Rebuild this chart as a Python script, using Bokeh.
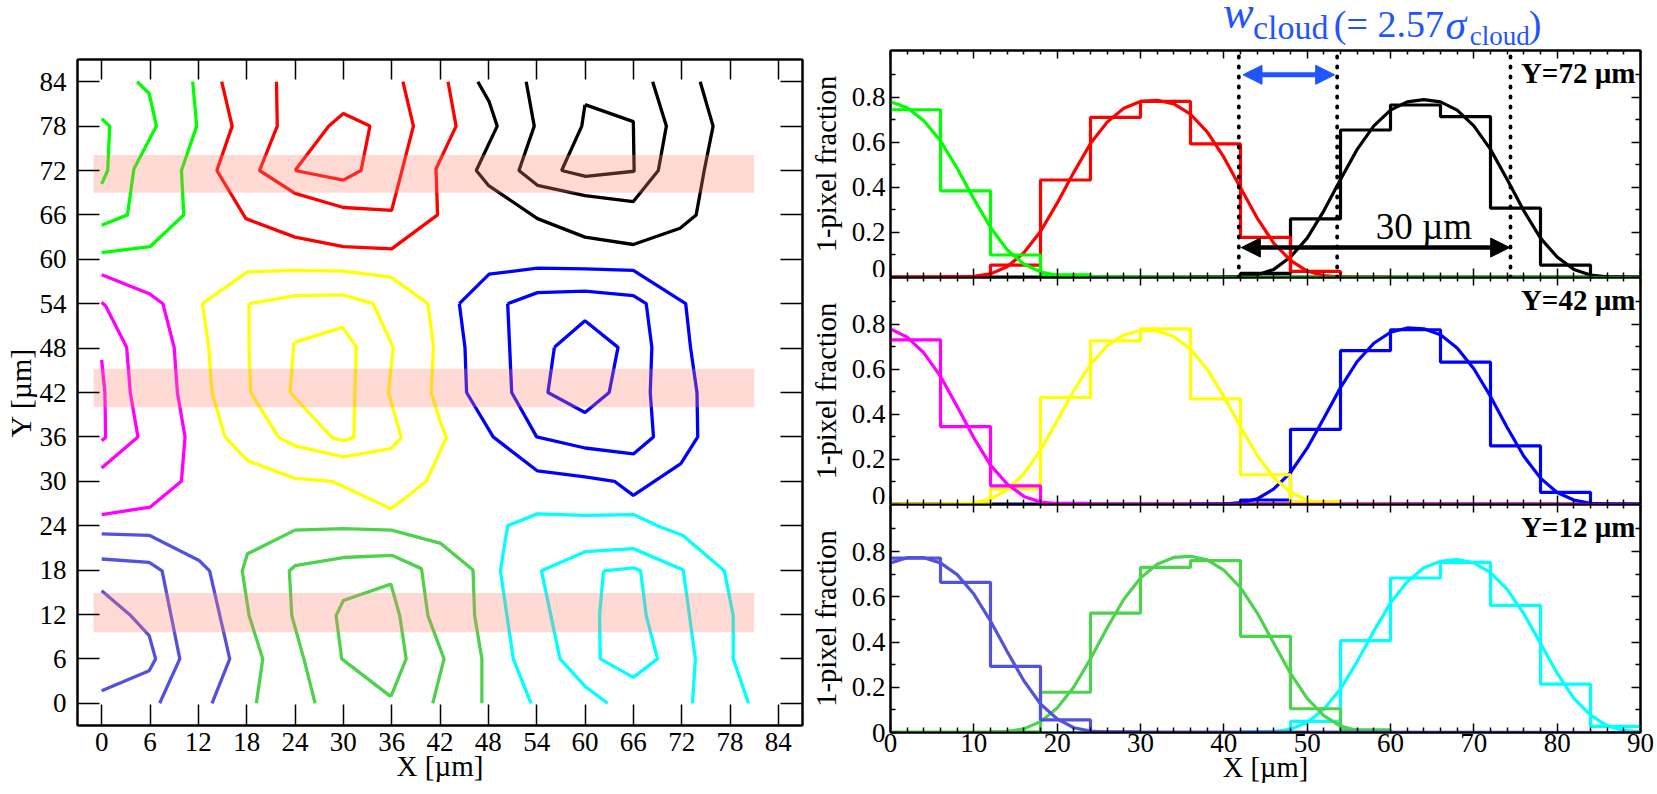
from bokeh.plotting import figure
from bokeh.layouts import row, column
from bokeh.models import FixedTicker, LinearAxis, Label, Arrow, NormalHead
from bokeh.embed import file_html
from bokeh.resources import INLINE

FONT = "Liberation Serif"

# ---------------- left panel: contour map ----------------
MAP_TICKS = [0, 6, 12, 18, 24, 30, 36, 42, 48, 54, 60, 66, 72, 78, 84]
BAND_BOTTOM = [9.6, 40.0, 69.0]
BAND_TOP = [14.9, 45.2, 74.1]

LIME_XS = [[0, 1.0, 0.75, 0], [4.4, 5.9, 6.8, 4.0, 3.2, 0], [11.3, 11.8, 9.9, 10.2, 6.0, 0]]
LIME_YS = [[79, 78, 72, 70.2], [84, 82.4, 78, 72.2, 66, 64.6], [84, 78, 72, 66, 61.7, 60.9]]
RED_XS = [[14.9, 16.2, 14.3, 17.9, 24, 30, 36, 41.7, 41.5, 44, 43],
          [21.7, 21.8, 19.6, 24, 30, 36, 38.7, 37.4],
          [24, 28.2, 30, 33.3, 32.2, 30, 24]]
RED_YS = [[84, 78, 72, 65.5, 63, 61.7, 61.4, 66, 72.2, 78, 84],
          [84, 78, 72, 68.9, 67, 66.6, 78, 84],
          [72, 78, 79.7, 78, 72, 70.7, 72]]
BLACK_XS = [[46.7, 48.1, 49.1, 46.5, 48.0, 54.1, 60, 66, 71.8, 73.8, 74.8, 75.9, 74.3],
            [52.7, 53.7, 51.8, 54.1, 60, 66, 69.1, 70.1, 68.4],
            [60, 59.6, 57.1, 60.1, 66.1, 66, 60]]
BLACK_YS = [[84, 81.3, 78, 72, 70, 65.5, 63, 62, 64.2, 66, 72, 78, 84],
            [84, 78, 72, 70, 68.6, 67.8, 72, 78, 84],
            [80.9, 78, 72, 71.2, 71.9, 78.6, 80.9]]
MAGENTA_XS = [[0, 0.4, 0.5, 0], [0, 0.5, 3.1, 3.55, 4.5, 0],
              [0, 6, 7.6, 9.0, 9.4, 10.35, 9.9, 6, 0]]
MAGENTA_YS = [[46.4, 42, 35.9, 35.5], [54.2, 53.7, 48.1, 42, 36, 31.8],
              [57.9, 55.3, 54, 48.1, 42, 36, 30, 26.5, 25.5]]
YELLOW_XS = [[12.5, 18.1, 24, 30, 35.9, 40.5, 41.2, 40.9, 42.1, 42.8, 40.3, 37.3, 35.9, 28.6, 24, 18.1, 15.3, 13.7, 13.3, 12.5],
             [18.3, 24, 30, 33.7, 36.2, 35.6, 37.2, 35.9, 30, 24, 22, 18.5, 18.3, 18.3],
             [24, 29.9, 31.6, 31.3, 30, 28.6, 23.4, 23.85, 24]]
YELLOW_YS = [[54, 58.3, 58.5, 58.4, 57.6, 54, 48.1, 42, 37.8, 35.9, 30, 27.4, 26.3, 30, 30.4, 32.8, 36, 42, 48.1, 54],
             [54, 55.1, 55.2, 54, 48.1, 42, 35.9, 34.4, 33.3, 34.8, 35.9, 42, 48, 54],
             [48.8, 50.8, 48.2, 35.9, 35.5, 35.9, 42, 48.6, 48.8]]
BLUE_XS = [[44.4, 48.1, 54.1, 60, 66, 72.5, 73.1, 73.9, 74, 71.9, 66, 63.65, 60, 54.1, 48.6, 45.3, 45.1, 44.4],
           [50.4, 54.1, 60, 66, 67.6, 68.3, 68.1, 68.5, 66, 60, 54, 50.9, 50.65, 50.4],
           [56.2, 60, 64.1, 63, 60, 55.4, 56.2]]
BLUE_YS = [[54, 58, 58.8, 58.7, 58.5, 54, 48.1, 42, 36, 32.4, 28.1, 30, 30.6, 31.4, 36, 42, 48.1, 54],
           [54, 55.5, 55.7, 55.1, 54, 48.1, 42, 36, 33.7, 34.5, 36, 42, 48.1, 54],
           [48.1, 51.7, 48.1, 42, 39.3, 42, 48.1]]
SLATE_XS = [[0, 3.6, 5.9, 6.7, 5.9, 0], [0, 5.9, 7.5, 9.7, 7.2], [0, 5.9, 12.1, 13.4, 15.9, 13.7]]
SLATE_YS = [[15.2, 11.85, 9.15, 6, 4.4, 1.7], [19.5, 19.05, 17.9, 6, 0], [22.9, 22.7, 19.3, 17.9, 6, 0]]
GREEN_XS = [[19.2, 20, 18.3, 17.45, 18.1, 24, 30, 36, 42.1, 46.1, 46.3, 47.2, 47.2],
            [26.5, 25.1, 23.6, 23.3, 24, 30, 36, 39.7, 40.5, 42.5, 41.1],
            [35.9, 29.8, 29.1, 30, 35.9, 37, 37.8, 35.9]]
GREEN_YS = [[0, 6, 11.85, 17.9, 20.2, 23.4, 23.6, 23.4, 21.6, 18, 11.85, 6, 0],
            [0, 6, 11.85, 17.9, 18.6, 19.7, 20, 18.2, 11.85, 6, 0],
            [0.9, 6, 11.85, 13.9, 16.1, 11.85, 6, 0.9]]
CYAN_XS = [[53.3, 51.1, 49.5, 50.4, 54.1, 60, 66, 69.2, 72.1, 77.3, 78.4, 78.4, 80.3],
           [62.8, 60.1, 56.9, 54.6, 60.1, 66, 72.2, 73.7, 73.35],
           [62.3, 66.1, 66.9, 67.6, 69, 66, 61.9, 61.8, 62.3]]
CYAN_YS = [[0, 6, 17.9, 24, 25.6, 25.4, 25.5, 23.9, 22.7, 17.9, 11.85, 6, 0],
           [0, 2.2, 6, 17.9, 20.5, 20.9, 18, 6, 0],
           [17.9, 18.3, 17.9, 11.85, 6, 3.5, 6, 11.85, 17.9]]

C_LIME = "#00ff00"
C_RED = "#ff0000"
C_BLACK = "#000000"
C_MAGENTA = "#ff00ff"
C_YELLOW = "#ffff00"
C_BLUE = "#0000ff"
C_SLATE = "#5252dc"
C_GREEN = "#4dd24d"
C_CYAN = "#00ffff"
C_ANN = "#1f55ff"

# ---------------- right panels: 1-pixel fraction profiles ----------------
PROFILE_TICKS = [0, 10, 20, 30, 40, 50, 60, 70, 80, 90]
PROFILE_MINOR = [2, 4, 6, 8, 12, 14, 16, 18, 22, 24, 26, 28, 32, 34, 36, 38, 42, 44, 46, 48,
                 52, 54, 56, 58, 62, 64, 66, 68, 72, 74, 76, 78, 82, 84, 86, 88]
FRAC_TICKS = [0, 0.2, 0.4, 0.6, 0.8]
FRAC_MINOR = [0.1, 0.3, 0.5, 0.7, 0.9]
BIN_EDGES = [0, 6, 12, 18, 24, 30, 36, 42, 48, 54, 60, 66, 72, 78, 84, 90]

# Y = 72 um
H72_GREEN = [0.745, 0.385, 0.100, 0.012, 0.002, 0, 0, 0, 0, 0, 0, 0, 0, 0, 0]
H72_RED = [0.002, 0.004, 0.055, 0.433, 0.711, 0.782, 0.593, 0.178, 0.027, 0.002, 0, 0, 0, 0, 0]
H72_BLACK = [0, 0, 0, 0, 0, 0, 0.002, 0.018, 0.260, 0.655, 0.766, 0.714, 0.308, 0.055, 0.002]
F72_GREEN_X = [0, 2, 4, 6, 8, 10, 12, 14, 16, 18, 20, 22, 24, 90]
F72_GREEN_Y = [0.780, 0.754, 0.696, 0.607, 0.485, 0.349, 0.222, 0.123, 0.060, 0.025, 0.009, 0.003, 0.001, 0]
F72_RED_X = [0, 8, 10, 12, 14, 16, 18, 20, 22, 24, 26, 28, 30, 32, 34, 36, 38, 40, 42, 44, 46, 48, 50, 52, 54, 56, 66]
F72_RED_Y = [0, 0, 0.005, 0.016, 0.048, 0.110, 0.204, 0.330, 0.467, 0.595, 0.690, 0.752, 0.782, 0.787, 0.771,
             0.725, 0.647, 0.534, 0.399, 0.264, 0.152, 0.076, 0.028, 0.009, 0.002, 0, 0]
F72_BLACK_X = [36, 40, 42, 44, 46, 48, 50, 52, 54, 56, 58, 60, 62, 64, 66, 68, 70, 72, 74, 76, 78, 80, 82, 84, 86, 88, 90]
F72_BLACK_Y = [0, 0.001, 0.003, 0.011, 0.036, 0.091, 0.175, 0.296, 0.435, 0.569, 0.673, 0.743, 0.780, 0.790,
               0.780, 0.743, 0.673, 0.569, 0.435, 0.296, 0.175, 0.091, 0.036, 0.011, 0.003, 0.001, 0]

# Y = 42 um
H42_MAGENTA = [0.731, 0.346, 0.083, 0.005, 0, 0, 0, 0, 0, 0, 0, 0, 0, 0, 0]
H42_YELLOW = [0.002, 0.003, 0.069, 0.476, 0.727, 0.780, 0.469, 0.132, 0.013, 0.001, 0, 0, 0, 0, 0]
H42_BLUE = [0, 0, 0, 0, 0, 0, 0.002, 0.020, 0.334, 0.683, 0.776, 0.632, 0.260, 0.054, 0.002]
F42_MAGENTA_X = [0, 2, 4, 6, 8, 10, 12, 14, 16, 18, 20, 22, 90]
F42_MAGENTA_Y = [0.780, 0.743, 0.673, 0.569, 0.435, 0.296, 0.175, 0.091, 0.036, 0.011, 0.003, 0.001, 0]
F42_YELLOW_X = [0, 6, 8, 10, 12, 14, 16, 18, 20, 22, 24, 26, 28, 30, 32, 34, 36, 38, 40, 42, 44, 46, 48, 50, 52, 54, 56, 66]
F42_YELLOW_Y = [0, 0, 0.002, 0.007, 0.023, 0.066, 0.136, 0.241, 0.372, 0.506, 0.622, 0.705, 0.753, 0.773, 0.771,
                0.746, 0.690, 0.601, 0.480, 0.345, 0.218, 0.119, 0.055, 0.019, 0.005, 0.001, 0, 0]
F42_BLUE_X = [36, 38, 40, 42, 44, 46, 48, 50, 52, 54, 56, 58, 60, 62, 64, 66, 68, 70, 72, 74, 76, 78, 80, 82, 84, 86, 88, 90]
F42_BLUE_Y = [0, 0.001, 0.002, 0.008, 0.025, 0.069, 0.142, 0.250, 0.383, 0.519, 0.635, 0.716, 0.765, 0.784,
              0.780, 0.754, 0.695, 0.603, 0.480, 0.342, 0.214, 0.117, 0.053, 0.020, 0.005, 0.002, 0.001, 0]

# Y = 12 um
H12_SLATE = [0.771, 0.664, 0.292, 0.056, 0.003, 0, 0, 0, 0, 0, 0, 0, 0, 0, 0]
H12_GREEN = [0.002, 0.002, 0.003, 0.178, 0.528, 0.730, 0.760, 0.425, 0.105, 0.012, 0, 0, 0, 0, 0]
H12_CYAN = [0, 0, 0, 0, 0, 0, 0, 0.003, 0.049, 0.406, 0.683, 0.752, 0.562, 0.214, 0.027]
F12_SLATE_X = [0, 2, 4, 6, 8, 10, 12, 14, 16, 18, 20, 22, 24, 26, 90]
F12_SLATE_Y = [0.750, 0.773, 0.773, 0.750, 0.698, 0.612, 0.493, 0.358, 0.229, 0.126, 0.060, 0.021, 0.006, 0.002, 0]
F12_GREEN_X = [0, 10, 12, 14, 16, 18, 20, 22, 24, 26, 28, 30, 32, 34, 36, 38, 40, 42, 44, 46, 48, 50, 52, 54, 56, 58, 60, 70]
F12_GREEN_Y = [0, 0, 0.001, 0.005, 0.016, 0.048, 0.108, 0.201, 0.326, 0.463, 0.589, 0.683, 0.744, 0.774, 0.779,
               0.763, 0.718, 0.640, 0.529, 0.395, 0.261, 0.151, 0.075, 0.028, 0.009, 0.002, 0, 0]
F12_CYAN_X = [40, 44, 46, 48, 50, 52, 54, 56, 58, 60, 62, 64, 66, 68, 70, 72, 74, 76, 78, 80, 82, 84, 86, 88, 90]
F12_CYAN_Y = [0, 0.001, 0.004, 0.014, 0.044, 0.103, 0.192, 0.314, 0.448, 0.572, 0.666, 0.728, 0.757, 0.765,
              0.750, 0.707, 0.633, 0.525, 0.394, 0.262, 0.151, 0.077, 0.029, 0.009, 0.003]

CLOUD_EDGES = [41.8, 53.6, 74.4]

TICK_PX = "27px"


def style_axis(ax, tick_in, minor_in, labels, ticks, standoff=5, label_px="28px"):
    ax.axis_line_width = 2
    ax.axis_line_color = "black"
    ax.major_tick_in = tick_in
    ax.major_tick_out = 0
    ax.minor_tick_in = minor_in
    ax.minor_tick_out = 0
    ax.major_tick_line_width = 1.5
    ax.minor_tick_line_width = 1.5
    ax.major_tick_line_color = "black"
    ax.minor_tick_line_color = "black"
    ax.major_label_text_font = FONT
    ax.major_label_text_color = "black"
    ax.major_label_text_font_size = TICK_PX
    ax.axis_label_text_font = FONT
    ax.axis_label_text_font_style = "normal"
    ax.axis_label_text_font_size = label_px
    ax.axis_label_text_color = "black"
    if labels:
        ax.major_label_standoff = standoff
    else:
        # tick marks only: empty labels that take no room
        ax.major_label_standoff = 0
        ax.major_label_overrides = {t: "" for t in ticks}


# ---------------- left figure ----------------
left = figure(width=807, height=794, x_range=(-3, 87), y_range=(-3, 87), title=None,
              output_backend="svg", toolbar_location=None,
              min_border_left=74, min_border_right=5, min_border_top=59, min_border_bottom=69)
left.grid.visible = False
left.outline_line_color = "black"
left.outline_line_width = 2
left.add_layout(LinearAxis(major_label_orientation="vertical"), "above")
left.add_layout(LinearAxis(), "right")
for ax in (left.below[0], left.above[0], left.left[0], left.right[0]):
    ax.ticker = FixedTicker(ticks=MAP_TICKS, minor_ticks=[])
style_axis(left.below[0], 21, 0, True, MAP_TICKS, 7, "29px")
style_axis(left.left[0], 22, 0, True, MAP_TICKS, 11, "30px")
style_axis(left.above[0], 20, 0, False, MAP_TICKS)
style_axis(left.right[0], 22, 0, False, MAP_TICKS)
left.below[0].axis_label = "X [µm]"
left.below[0].axis_label_standoff = -4
left.left[0].axis_label = "Y [µm]"
left.left[0].axis_label_standoff = 0

for xs, ys, col in [(LIME_XS, LIME_YS, C_LIME), (RED_XS, RED_YS, C_RED), (BLACK_XS, BLACK_YS, C_BLACK),
                    (MAGENTA_XS, MAGENTA_YS, C_MAGENTA), (YELLOW_XS, YELLOW_YS, C_YELLOW),
                    (BLUE_XS, BLUE_YS, C_BLUE), (SLATE_XS, SLATE_YS, C_SLATE),
                    (GREEN_XS, GREEN_YS, C_GREEN), (CYAN_XS, CYAN_YS, C_CYAN)]:
    left.multi_line(xs=xs, ys=ys, line_color=col, line_width=3.3)

left.quad(left=-1, right=81, bottom=BAND_BOTTOM, top=BAND_TOP,
          fill_color="#ff8272", fill_alpha=0.3, line_color=None)


# ---------------- right figures ----------------
def make_profile(height, top_border, bottom_border, bottom_labels):
    p = figure(width=850, height=height, x_range=(0, 90), y_range=(0, 1.008), title=None,
               output_backend="svg", toolbar_location=None,
               min_border_left=80, min_border_right=17,
               min_border_top=top_border, min_border_bottom=bottom_border)
    p.grid.visible = False
    p.outline_line_color = "black"
    p.outline_line_width = 2
    p.add_layout(LinearAxis(major_label_orientation="vertical"), "above")
    p.add_layout(LinearAxis(), "right")
    if not bottom_labels:
        p.below[0].major_label_orientation = "vertical"
    for ax in (p.below[0], p.above[0]):
        ax.ticker = FixedTicker(ticks=PROFILE_TICKS, minor_ticks=PROFILE_MINOR)
    for ax in (p.left[0], p.right[0]):
        ax.ticker = FixedTicker(ticks=FRAC_TICKS, minor_ticks=FRAC_MINOR)
    style_axis(p.left[0], 9, 5, True, FRAC_TICKS, 5, "28.5px")
    p.left[0].major_label_overrides = {0: "0", 0.2: "0.2", 0.4: "0.4", 0.6: "0.6", 0.8: "0.8"}
    p.left[0].axis_label = "1-pixel fraction"
    p.left[0].axis_label_standoff = 7
    style_axis(p.right[0], 9, 5, False, FRAC_TICKS)
    style_axis(p.above[0], 8, 4, False, PROFILE_TICKS)
    style_axis(p.below[0], 9, 5, bottom_labels, PROFILE_TICKS, 1, "28.5px")
    if bottom_labels:
        p.below[0].axis_label = "X [µm]"
        p.below[0].axis_label_standoff = -3
    return p


def hist_y(vals):
    return list(vals) + [vals[-1]]


def add_series(p, hist, fx, fy, col):
    p.step(x=BIN_EDGES, y=hist_y(hist), mode="after", line_color=col, line_width=3.2)
    p.line(x=fx, y=fy, line_color=col, line_width=3.2)


def corner_label(p, txt):
    p.add_layout(Label(x=89.4, y=0.91, text=txt, text_align="right", text_baseline="alphabetic",
                       text_font=FONT, text_font_style="bold", text_font_size="29px", text_color="black"))


# annotation strip above the top profile: w_cloud (= 2.57 sigma_cloud)
ann = figure(width=850, height=49, x_range=(0, 90), y_range=(0, 1), title=None,
             output_backend="svg", toolbar_location=None,
             x_axis_location=None, y_axis_location=None,
             min_border_left=80, min_border_right=17, min_border_top=0, min_border_bottom=0)
ann.grid.visible = False
ann.outline_line_color = None
for txt, x, y, style, size in [("w", 39.9, 0.75, "italic", "46px"),
                                ("cloud", 43.5, 0.455, "normal", "34px"),
                                ("(= 2.57", 53.2, 0.52, "normal", "38px"),
                                ("σ", 66.6, 0.49, "italic", "42px"),
                                ("cloud", 69.5, 0.28, "normal", "27px"),
                                (")", 76.6, 0.52, "normal", "38px")]:
    ann.add_layout(Label(x=x, y=y, text=txt, text_align="left", text_baseline="alphabetic",
                         text_font=FONT, text_font_style=style, text_font_size=size, text_color=C_ANN))

top = make_profile(228, 1, 0, False)
add_series(top, H72_BLACK, F72_BLACK_X, F72_BLACK_Y, C_BLACK)
add_series(top, H72_RED, F72_RED_X, F72_RED_Y, C_RED)
add_series(top, H72_GREEN, F72_GREEN_X, F72_GREEN_Y, C_LIME)
top.segment(x0=CLOUD_EDGES, y0=0.0, x1=CLOUD_EDGES, y1=0.985, line_color="black",
            line_width=3.8, line_dash="1 9", line_cap="round")
top.add_layout(Arrow(start=NormalHead(size=19, fill_color=C_ANN, line_color=C_ANN),
                     end=NormalHead(size=19, fill_color=C_ANN, line_color=C_ANN),
                     x_start=42.3, y_start=0.90, x_end=53.3, y_end=0.90,
                     line_color=C_ANN, line_width=5))
top.add_layout(Arrow(start=NormalHead(size=19, fill_color="black", line_color="black"),
                     end=NormalHead(size=19, fill_color="black", line_color="black"),
                     x_start=42.1, y_start=0.133, x_end=74.3, y_end=0.133,
                     line_color="black", line_width=4.5))
top.add_layout(Label(x=64.0, y=0.226, text="30 µm", text_align="center", text_baseline="alphabetic",
                     text_font=FONT, text_font_size="37px", text_color="black"))
corner_label(top, "Y=72 µm")

mid = make_profile(227, 0, 0, False)
add_series(mid, H42_BLUE, F42_BLUE_X, F42_BLUE_Y, C_BLUE)
add_series(mid, H42_YELLOW, F42_YELLOW_X, F42_YELLOW_Y, C_YELLOW)
add_series(mid, H42_MAGENTA, F42_MAGENTA_X, F42_MAGENTA_Y, C_MAGENTA)
corner_label(mid, "Y=42 µm")

bot = make_profile(290, 0, 62, True)
add_series(bot, H12_CYAN, F12_CYAN_X, F12_CYAN_Y, C_CYAN)
add_series(bot, H12_GREEN, F12_GREEN_X, F12_GREEN_Y, C_GREEN)
add_series(bot, H12_SLATE, F12_SLATE_X, F12_SLATE_Y, C_SLATE)
corner_label(bot, "Y=12 µm")

layout = row(left, column(ann, top, mid, bot, spacing=0), spacing=0)

html = file_html(layout, INLINE, title="1-pixel fraction")
html = html.replace("<head>", "<head><style>html, body {margin: 0; padding: 0; overflow: hidden;}</style>", 1)
open("out.html", "w").write(html)
